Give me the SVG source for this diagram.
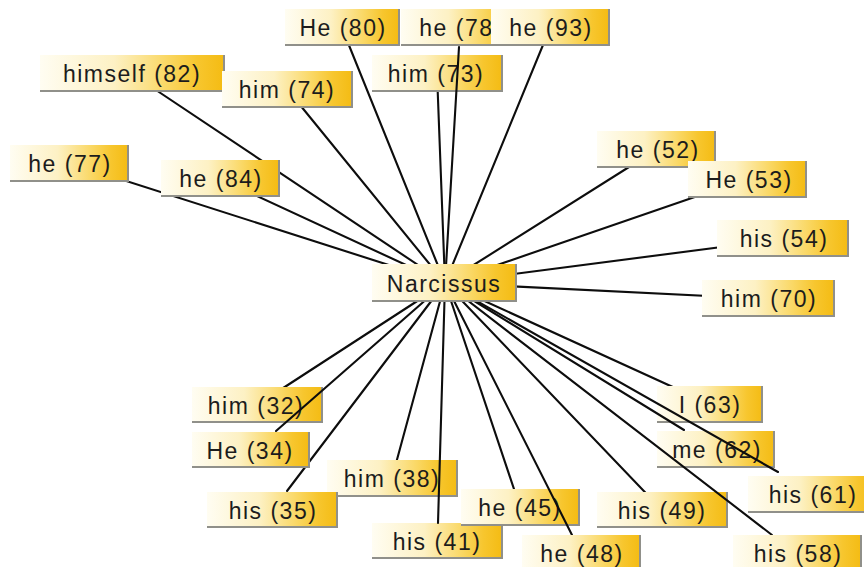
<svg xmlns="http://www.w3.org/2000/svg" width="864" height="567" viewBox="0 0 864 567">
<defs>
<linearGradient id="g" x1="0" y1="0" x2="1" y2="0">
<stop offset="0" stop-color="#fffdf2"/>
<stop offset="0.4" stop-color="#fdf1c4"/>
<stop offset="0.68" stop-color="#fad866"/>
<stop offset="0.85" stop-color="#f7c62e"/>
<stop offset="1" stop-color="#f4bb12"/>
</linearGradient>
<style>
.n rect{fill:url(#g)}
.n path{fill:none;stroke:#90908a;stroke-width:2}
.n text{font-family:"Liberation Sans",Arial,sans-serif;font-size:23px;letter-spacing:1.5px;fill:#1c1c1c;text-anchor:middle}
.c line{stroke:#0d0d0d;stroke-width:2.1;stroke-linecap:round}
</style>
</defs>
<rect width="864" height="567" fill="#fff"/>
<g id="connectors" class="c">
<line x1="445" y1="283" x2="132" y2="74"/>
<line x1="445" y1="283" x2="70" y2="163"/>
<line x1="445" y1="283" x2="220" y2="179"/>
<line x1="445" y1="283" x2="287" y2="89"/>
<line x1="445" y1="283" x2="342" y2="28"/>
<line x1="445" y1="283" x2="437" y2="73"/>
<line x1="445" y1="283" x2="550" y2="28"/>
<line x1="445" y1="283" x2="656" y2="150"/>
<line x1="445" y1="283" x2="747" y2="179"/>
<line x1="445" y1="283" x2="783" y2="239"/>
<line x1="445" y1="283" x2="768" y2="299"/>
<line x1="445" y1="283" x2="257" y2="405"/>
<line x1="445" y1="283" x2="392" y2="478"/>
<line x1="445" y1="283" x2="520" y2="507"/>
<line x1="445" y1="283" x2="662" y2="510"/>
<line x1="445" y1="283" x2="710" y2="404"/>
</g>
<g id="n-him32" class="n" transform="translate(192,387)"><rect width="131" height="36"/><path d="M0,35H130V0"/><text x="64" y="27">him (32)</text></g>
<g id="n-him38" class="n" transform="translate(327,460)"><rect width="131" height="37"/><path d="M0,36H130V0"/><text x="65" y="27">him (38)</text></g>
<g id="n-his41" class="n" transform="translate(372,523)"><rect width="131" height="36"/><path d="M0,35H130V0"/><text x="65" y="27">his (41)</text></g>
<g id="n-he45" class="n" transform="translate(461,489)"><rect width="119" height="37"/><path d="M0,36H118V0"/><text x="59" y="27">he (45)</text></g>
<g id="n-his49" class="n" transform="translate(597,492)"><rect width="131" height="36"/><path d="M0,35H130V0"/><text x="65" y="27">his (49)</text></g>
<g id="n-I63" class="n" transform="translate(657,386)"><rect width="106" height="37"/><path d="M0,36H105V0"/><text x="53" y="27">I (63)</text></g>
<g id="n-me62" class="n" transform="translate(657,431)"><rect width="118" height="37"/><path d="M0,36H117V0"/><text x="60" y="27">me (62)</text></g>
<g id="n-him73" class="n" transform="translate(372,55)"><rect width="131" height="37"/><path d="M0,36H130V0"/><text x="64" y="27">him (73)</text></g>
<g id="n-himself82" class="n" transform="translate(40,55)"><rect width="185" height="37"/><path d="M0,36H184V0"/><text x="92" y="27">himself (82)</text></g>
<g id="n-he77" class="n" transform="translate(10,145)"><rect width="119" height="37"/><path d="M0,36H118V0"/><text x="60" y="27">he (77)</text></g>
<g id="n-he84" class="n" transform="translate(161,160)"><rect width="119" height="37"/><path d="M0,36H118V0"/><text x="60" y="27">he (84)</text></g>
<g id="n-him74" class="n" transform="translate(222,71)"><rect width="131" height="37"/><path d="M0,36H130V0"/><text x="65" y="27">him (74)</text></g>
<g id="n-He80" class="n" transform="translate(285,9)"><rect width="115" height="37"/><path d="M0,36H114V0"/><text x="58" y="27">He (80)</text></g>
<g id="n-he52" class="n" transform="translate(597,131)"><rect width="119" height="37"/><path d="M0,36H118V0"/><text x="61" y="27">he (52)</text></g>
<g id="n-He53" class="n" transform="translate(688,161)"><rect width="119" height="37"/><path d="M0,36H118V0"/><text x="61" y="27">He (53)</text></g>
<g id="n-his54" class="n" transform="translate(717,220)"><rect width="132" height="37"/><path d="M0,36H131V0"/><text x="67" y="27">his (54)</text></g>
<g id="n-him70" class="n" transform="translate(702,280)"><rect width="133" height="37"/><path d="M0,36H132V0"/><text x="67" y="27">him (70)</text></g>
<g id="n-his35" class="n" transform="translate(207,492)"><rect width="131" height="36"/><path d="M0,35H130V0"/><text x="66" y="27">his (35)</text></g>
<g id="connectors-over" class="c">
<line x1="445" y1="283" x2="459" y2="47"/>
<line x1="445" y1="283" x2="276" y2="431"/>
<line x1="445" y1="283" x2="287" y2="491"/>
<line x1="445" y1="283" x2="438" y2="523"/>
<line x1="445" y1="283" x2="572" y2="535"/>
<line x1="445" y1="283" x2="684" y2="430"/>
<line x1="445" y1="283" x2="778" y2="472"/>
<line x1="445" y1="283" x2="772" y2="535"/>
</g>
<g id="n-He34" class="n" transform="translate(192,432)"><rect width="118" height="36"/><path d="M0,35H117V0"/><text x="58" y="27">He (34)</text></g>
<g id="n-he48" class="n" transform="translate(522,535)"><rect width="119" height="37"/><path d="M0,36H118V0"/><text x="60" y="27">he (48)</text></g>
<g id="n-his61" class="n" transform="translate(748,476)"><rect width="129" height="37"/><path d="M0,36H128V0"/><text x="65" y="27">his (61)</text></g>
<g id="n-his58" class="n" transform="translate(733,535)"><rect width="129" height="37"/><path d="M0,36H128V0"/><text x="65" y="27">his (58)</text></g>
<g id="n-he78" class="n" transform="translate(401,9)"><rect width="119" height="37"/><path d="M0,36H118V0"/><text x="60" y="27">he (78)</text></g>
<g id="n-he93" class="n" transform="translate(491,9)"><rect width="119" height="37"/><path d="M0,36H118V0"/><text x="60" y="27">he (93)</text></g>
<g id="n-narcissus" class="n" transform="translate(372,264)"><rect width="145" height="38"/><path d="M0,37H144V0"/><text x="72" y="28">Narcissus</text></g>
</svg>
